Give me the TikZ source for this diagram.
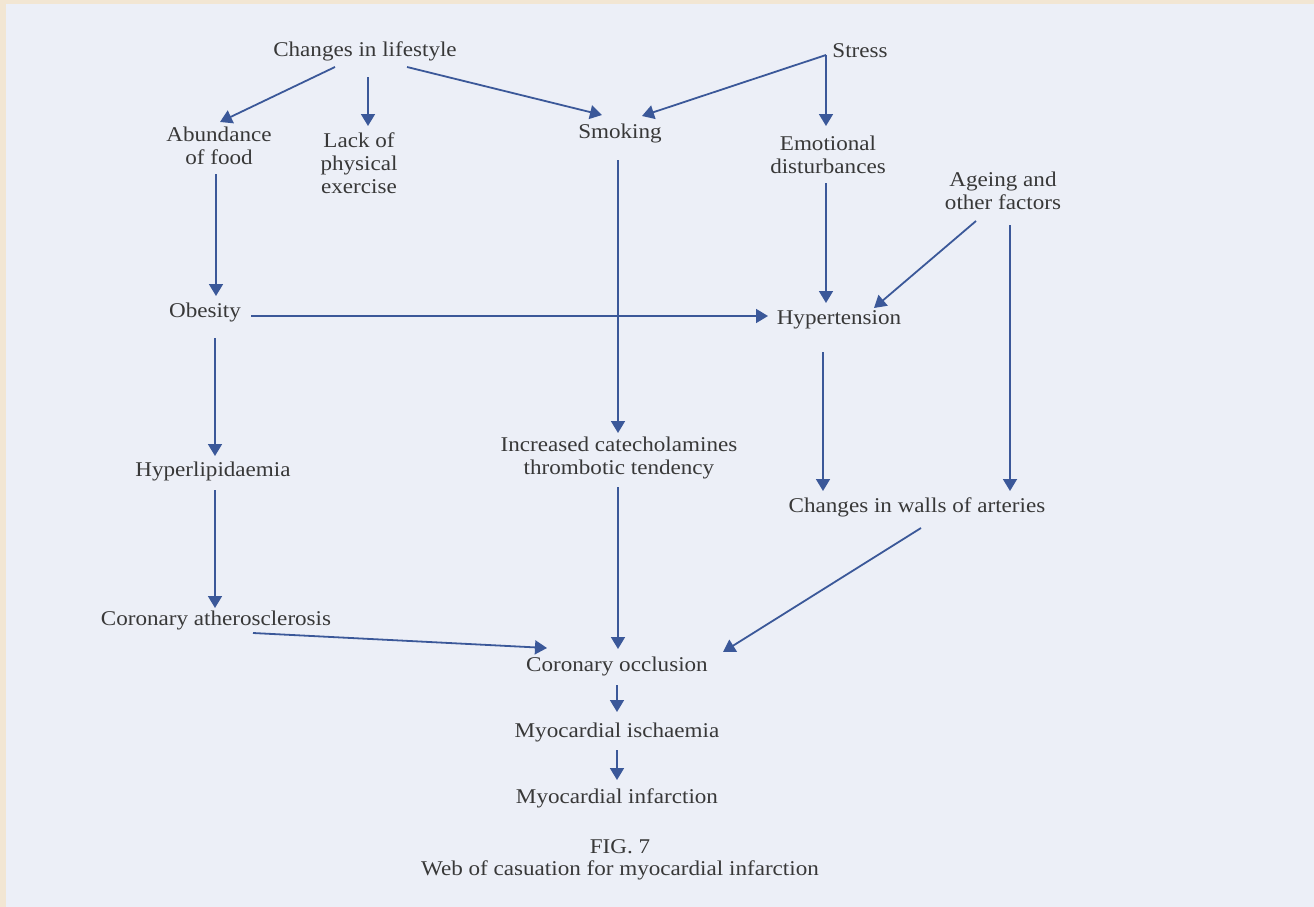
\documentclass[tikz,border=0pt]{standalone}
\usepackage{fontspec}
\setmainfont{Liberation Serif}[FakeStretch=1.1]
\usetikzlibrary{arrows.meta,calc}
\definecolor{bg}{HTML}{ECEFF7}
\definecolor{paper}{HTML}{F2E6D3}
\definecolor{lncol}{HTML}{3B5899}
\definecolor{tx}{HTML}{383838}
\begin{document}
\begin{tikzpicture}[x=1pt,y=-1pt,
  lbl/.style={text=tx, font=\fontsize{21}{23}\selectfont, align=center, inner sep=0pt},
  arr/.style={draw=lncol, line width=1.8pt, -{Triangle[length=12pt,width=14pt]}},
  plain/.style={draw=lncol, line width=1.8pt}]
\fill[paper] (0,0) rectangle (1314,907);
\fill[bg] (6,4) rectangle (1314,907);
\useasboundingbox (0,0) rectangle (1314,907);

\node[lbl] (cl) at (365,51) {Changes in lifestyle};
\node[lbl] (st) at (860,51) {Stress};
\node[lbl] (ab) at (219,146) {Abundance\\of food};
\node[lbl] (lk) at (359,163) {Lack of\\physical\\exercise};
\node[lbl] (sm) at (620,133) {Smoking};
\node[lbl] (em) at (828,155) {Emotional\\disturbances};
\node[lbl] (ag) at (1003,191) {Ageing and\\other factors};
\node[lbl] (ob) at (205,312) {Obesity};
\node[lbl] (hy) at (839,320) {Hypertension};
\node[lbl] (ic) at (619,458) {Increased catecholamines\\thrombotic tendency};
\node[lbl] (hl) at (213,471) {Hyperlipidaemia};
\node[lbl] (wa) at (917,507) {Changes in walls of arteries};
\node[lbl] (ca) at (216,620) {Coronary atherosclerosis};
\node[lbl] (co) at (617,666) {Coronary occlusion};
\node[lbl] (mi) at (617,732) {Myocardial ischaemia};
\node[lbl] (mf) at (617,798) {Myocardial infarction};
\node[lbl] (fig) at (620,847) {FIG. 7};
\node[lbl] (cap) at (620,870) {Web of casuation for myocardial infarction};

% from changes in lifestyle
\draw[arr] ($(cl)+(-30,16)$) -- ($(ab)+(1,-24)$);
\draw[arr] ($(cl)+(3,26)$) -- ($(lk)+(9,-37)$);
\draw[arr] ($(cl)+(42,16)$) -- ($(sm)+(-18,-18)$);
% from stress
\coordinate (sc) at ($(st)+(-34,4)$);
\draw[arr] (sc) -- ($(sm)+(22,-17)$);
\draw[arr] (sc) -- ($(em)+(-2,-29)$);
% left column
\draw[arr] ($(ab)+(-3,28)$) -- ($(ob)+(11,-16)$);
\draw[arr] ($(ob)+(46,4)$) -- ($(hy)+(-71,-4)$);
\draw[arr] ($(ob)+(10,26)$) -- ($(hl)+(2,-15)$);
\draw[arr] ($(hl)+(2,19)$) -- ($(ca)+(-1,-12)$);
\draw[arr] ($(ca)+(37,13)$) -- ($(co)+(-70,-18)$);
% middle
\draw[arr] ($(sm)+(-2,27)$) -- ($(ic)+(-1,-25)$);
\draw[arr] ($(ic)+(-1,29)$) -- ($(co)+(1,-17)$);
\draw[arr] ($(co)+(0,19)$) -- ($(mi)+(0,-20)$);
\draw[arr] ($(mi)+(0,18)$) -- ($(mf)+(0,-18)$);
% right
\draw[arr] ($(em)+(-2,28)$) -- ($(hy)+(-13,-17)$);
\draw[arr] ($(ag)+(-27,30)$) -- ($(hy)+(35,-12)$);
\draw[arr] ($(ag)+(7,34)$) -- ($(wa)+(93,-16)$);
\draw[arr] ($(hy)+(-16,32)$) -- ($(wa)+(-94,-16)$);
\draw[arr] ($(wa)+(4,21)$) -- ($(co)+(106,-14)$);
\end{tikzpicture}
\end{document}
